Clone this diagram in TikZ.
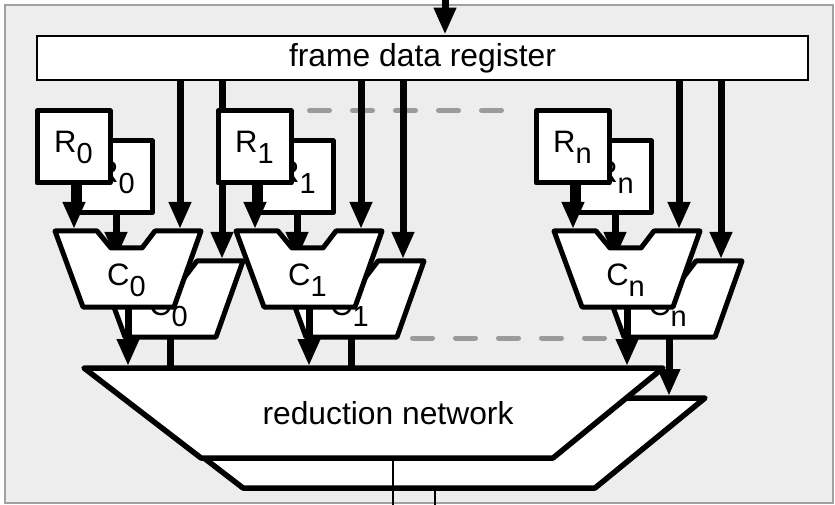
\documentclass[tikz,border=0pt]{standalone}
\usepackage{fontspec}
\setmainfont{Liberation Sans}
\usetikzlibrary{arrows.meta}
\definecolor{bgc}{RGB}{237,237,237}
\definecolor{bordc}{RGB}{160,160,160}
\definecolor{dashc}{RGB}{155,155,155}
\newcommand\sublab[2]{#1\raisebox{-11bp}{\fontsize{29bp}{31bp}\selectfont #2}}
\tikzset{
  shapeline/.style={line width=5bp, line join=round, draw=black, fill=white},
  netbox/.style={line width=5.5bp, line join=round, draw=black, fill=white},
  rbox/.style={shapeline, minimum width=73bp, minimum height=72bp, inner sep=0pt,
               font=\fontsize{31bp}{34bp}\selectfont},
  lab/.style={inner sep=0pt, font=\fontsize{31bp}{34bp}\selectfont},
  biglab/.style={inner sep=0pt, font=\fontsize{31.8bp}{36bp}\selectfont},
  regbox/.style={line width=2.7bp, draw=black, fill=white, minimum width=771bp,
                 minimum height=44bp, inner sep=0pt, font=\fontsize{31.8bp}{36bp}\selectfont},
  arr/.style={line width=7bp, -{Triangle[width=21bp,length=27bp]}},
  thinline/.style={line width=2bp, draw=black},
  dashline/.style={line width=5bp, dashc, line cap=round, dash pattern=on 20bp off 23bp},
}
% #1 tag, #2 x offset, #3 y offset, #4 network label
\newcommand\drawlayer[4]{%
\begin{scope}[shift={(#2,#3)}]
  \draw[netbox] (84,368) coordinate (NW#1) -- (663,368) coordinate (NE#1)
        -- (553,458) coordinate (SE#1) -- (201,458) coordinate (SW#1) -- cycle;
  \node[biglab] (net#1) at (388,413) {#4};
  \coordinate (out#1) at (393,458);
  \coordinate (end#1) at (393,{505-#3});
  \draw[thinline] (out#1) -- (end#1);
  \foreach \g/\gx in {0/0,1/181,n/499}{
    \begin{scope}[shift={(\gx,0)}]
      \coordinate (cb#1\g) at (128,307);
      \coordinate (nt#1\g) at (128,366);
      \draw[arr] (cb#1\g) -- (nt#1\g);
      \draw[shapeline] (55,231) -- (97,231) -- (111,248) -- (142,248) -- (155,231)
            -- (201,231) -- (174,307) -- (83,307) -- cycle;
      \node[lab] (C#1\g) at (126.5,280) {\sublab{C}{\g}};
      \coordinate (ct#1\g) at (74,229);
      \node[rbox] (R#1\g) at (73.5,147) {\sublab{R}{\g}};
      \draw[arr] (R#1\g.south -| ct#1\g) -- (ct#1\g);
      \coordinate (rs#1\g) at (180,{80-#3});
      \coordinate (re#1\g) at (180,229);
      \draw[arr] (rs#1\g) -- (re#1\g);
    \end{scope}}
\end{scope}}
\begin{document}
\begin{tikzpicture}[x=1bp,y=-1bp]
\useasboundingbox (0,0) rectangle (835,505);
\fill[bgc] (5,5) rectangle (833,503);
\draw[bordc, line width=2.2bp] (5,5) rectangle (833,503);
\coordinate (d1a) at (309.5,110.5);
\coordinate (d1b) at (501.5,110.5);
\coordinate (d2a) at (412.5,338);
\coordinate (d2b) at (604.5,338);
\draw[dashline] (d1a) -- (d1b);
\draw[dashline] (d2a) -- (d2b);
\node[regbox] (reg) at (422.5,58) {frame data register};
\drawlayer{b}{42}{30}{}
\drawlayer{f}{0}{0}{reduction network}
\coordinate (src) at (445,0);
\draw[arr] (src) -- (reg.north -| src);
\end{tikzpicture}
\end{document}
